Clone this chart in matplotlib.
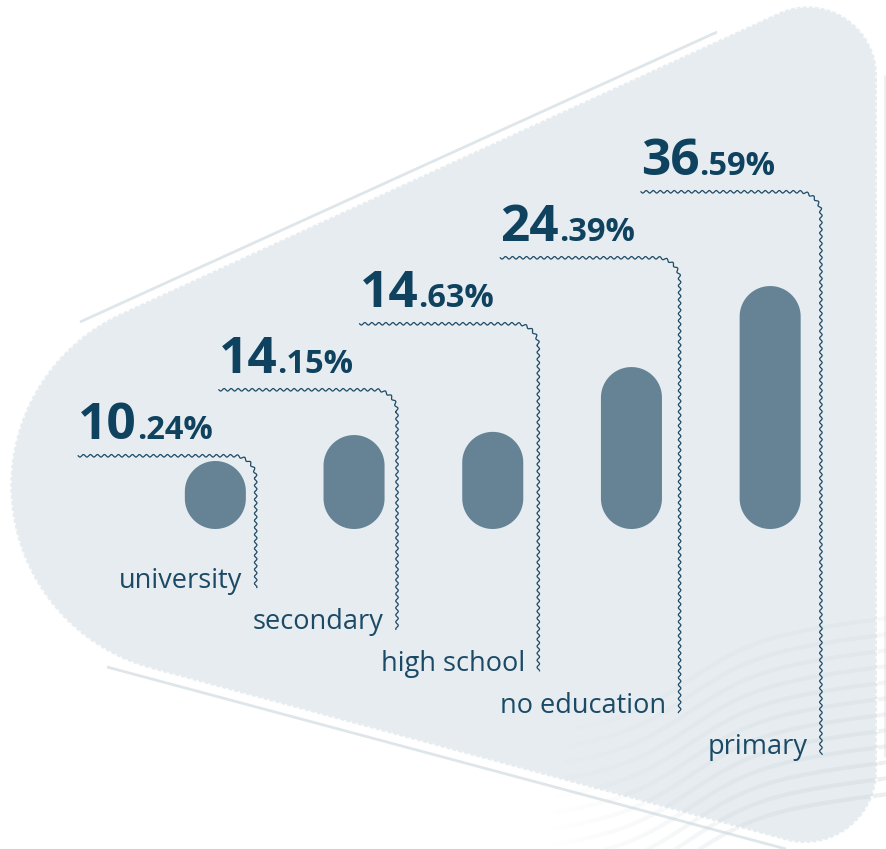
import numpy as np
import matplotlib
matplotlib.use("Agg")
import matplotlib.pyplot as plt
from matplotlib.patches import Polygon
from matplotlib.collections import LineCollection

# ---- data -------------------------------------------------------------
categories = ["university", "secondary", "high school", "no education", "primary"]
shares = [10.24, 14.15, 14.63, 24.39, 36.59]

# ---- style ------------------------------------------------------------
W, H = 887, 849
BG_FILL = "#e6ecef"
BAR_COLOR = "#668396"
DARK = "#0f425f"
LABEL_COLOR = "#1b4a66"
LINE_COLOR = "#1d4a66"
FAINT = "#dfe6ea"
FONT = ["Open Sans", "DejaVu Sans"]

# staircase layout of the annotation brackets (pixel units)
LABEL_X0, LABEL_DX = 78.2, 140.7
RULE_Y0, RULE_DY = 455.8, -66.0
DROP_X0, DROP_DX = 255.7, 141.3
END_Y0, END_DY = 587.6, 41.7
CORNER_R = 22
WAVE_AMP, WAVE_LEN = 1.25, 7.0


def rounded_polygon(verts, radii, n=80):
    """Polygon whose corners are replaced by circular fillets."""
    verts = [np.asarray(v, float) for v in verts]
    out = []
    k = len(verts)
    for i in range(k):
        p, a, b = verts[i], verts[i - 1], verts[(i + 1) % k]
        r = radii[i]
        u = (a - p) / np.linalg.norm(a - p)
        v = (b - p) / np.linalg.norm(b - p)
        ang = np.arccos(np.clip(np.dot(u, v), -1, 1))
        t = r / np.tan(ang / 2)
        p1, p2 = p + u * t, p + v * t
        bis = (u + v) / np.linalg.norm(u + v)
        c = p + bis * (r / np.sin(ang / 2))
        a1 = np.arctan2(*(p1 - c)[::-1])
        a2 = np.arctan2(*(p2 - c)[::-1])
        d = (a2 - a1 + np.pi) % (2 * np.pi) - np.pi
        th = a1 + np.linspace(0, d, n)
        out.append(np.column_stack([c[0] + r * np.cos(th), c[1] + r * np.sin(th)]))
    return np.vstack(out)


def wavy_bracket(x0, y0, xv, y1, r, amp, wl):
    """Horizontal rule, rounded corner, vertical drop - drawn as a fine wave."""
    step = 0.25
    hx = np.arange(x0, xv - r, step)
    seg1 = np.column_stack([hx, np.full_like(hx, y0)])
    th = np.linspace(0, np.pi / 2, int(np.pi / 2 * r / step))
    cx, cy = xv - r, y0 + r
    seg2 = np.column_stack([cx + r * np.sin(th), cy - r * np.cos(th)])
    vy = np.arange(y0 + r, y1, step)
    seg3 = np.column_stack([np.full_like(vy, xv), vy])
    pts = np.vstack([seg1, seg2, seg3])
    d = np.gradient(pts, axis=0)
    d /= np.linalg.norm(d, axis=1)[:, None]
    normal = np.column_stack([-d[:, 1], d[:, 0]])
    s = np.concatenate([[0], np.cumsum(np.linalg.norm(np.diff(pts, axis=0), axis=1))])
    return pts + normal * (amp * np.sin(2 * np.pi * s / wl))[:, None]


fig = plt.figure(figsize=(W / 100, H / 100), dpi=100)
fig.patch.set_facecolor("white")

# full-canvas axes for the backdrop and annotations (pixel coordinates)
ax = fig.add_axes([0, 0, 1, 1])
ax.set_xlim(0, W)
ax.set_ylim(H, 0)
ax.axis("off")

shape = rounded_polygon([(-357, 531.7), (877, -32.2), (877, 865)], [189.7, 69.4, 72])
ax.add_patch(Polygon(shape, closed=True, facecolor=BG_FILL, edgecolor="none", zorder=1))

# soft flowing stripes in the lower-right corner, fading out towards the centre
xs = np.linspace(520, 887, 300)
for j in range(12):
    base = 700 + j * 16
    ys = base - 38 * np.tanh((xs - 690) / 70) - 0.12 * (xs - 520)
    seg = np.stack([np.column_stack([xs[:-1], ys[:-1]]),
                    np.column_stack([xs[1:], ys[1:]])], axis=1)
    dist = np.hypot(xs[:-1] - 880, ys[:-1] - 849)
    alpha = np.clip(1 - dist / 330, 0, 1) * 0.55
    cols = np.zeros((len(alpha), 4))
    cols[:, :3] = matplotlib.colors.to_rgb("#d3dce2")
    cols[:, 3] = alpha
    ax.add_collection(LineCollection(seg, colors=cols, linewidths=3.0, zorder=1.5))

ax.add_patch(Polygon(shape, closed=True, facecolor="none", edgecolor="white",
                     lw=2.2, ls=(0, (0.8, 1.2)), alpha=0.85, zorder=2))

# thin accent strokes along the edges
ax.plot([80, 717], [322, 32], color=FAINT, lw=2, solid_capstyle="butt", zorder=1)
ax.plot([107, 786], [667, 849], color=FAINT, lw=2, solid_capstyle="butt", zorder=1)
ax.plot([885, 885], [75, 757], color="#eceff1", lw=2, solid_capstyle="butt", zorder=1)

# ---- bars: pill-shaped columns on their own value axes -----------------
bar_left_px, bar_dx_px = 146.0, 138.7
bar_base_px, px_per_unit, y_max = 529.0, 6.64, 40.0
n = len(shares)
ax_b = fig.add_axes([bar_left_px / W, (H - bar_base_px) / H,
                     n * bar_dx_px / W, y_max * px_per_unit / H])
ax_b.set_xlim(-0.5, n - 0.5)
ax_b.set_ylim(0, y_max)
ax_b.axis("off")
ax_b.patch.set_alpha(0)

bar_w = 0.44                         # in category units
x_per_px = n / (n * bar_dx_px)
y_per_px = y_max / (y_max * px_per_unit)
ry = (bar_w / 2) / x_per_px * y_per_px   # cap radius expressed in value units
th = np.linspace(0, np.pi, 60)
for i, v in enumerate(shares):
    top = np.column_stack([i + (bar_w / 2) * np.cos(th), (v - ry) + ry * np.sin(th)])
    bot = np.column_stack([i - (bar_w / 2) * np.cos(th), ry - ry * np.sin(th)])
    ax_b.add_patch(Polygon(np.vstack([top, bot]), closed=True,
                           facecolor=BAR_COLOR, edgecolor="none"))

# ---- value labels, wavy brackets and category names ---------------------
fig.canvas.draw()
renderer = fig.canvas.get_renderer()
for i, (cat, v) in enumerate(zip(categories, shares)):
    x0 = LABEL_X0 + i * LABEL_DX
    yh = RULE_Y0 + i * RULE_DY
    xv = DROP_X0 + i * DROP_DX
    ye = END_Y0 + i * END_DY

    pts = wavy_bracket(x0, yh, xv, ye, CORNER_R, WAVE_AMP, WAVE_LEN)
    ax.plot(pts[:, 0], pts[:, 1], color=LINE_COLOR, lw=0.9, zorder=4)

    whole, frac = f"{v:.2f}".split(".")
    t_big = ax.text(x0, yh - 17, whole, family=FONT, fontsize=37, fontweight="bold",
                    color=DARK, ha="left", va="baseline", zorder=5)
    bb = t_big.get_window_extent(renderer)
    xr = ax.transData.inverted().transform((bb.x1, 0))[0]
    ax.text(xr, yh - 17, f".{frac}%", family=FONT, fontsize=23.5, fontweight="bold",
            color=DARK, ha="left", va="baseline", zorder=5)

    ax.text(xv - 13, ye, cat, family=FONT, fontsize=19.5, color=LABEL_COLOR,
            ha="right", va="baseline", zorder=5)

fig.savefig("out.png", dpi=100, facecolor="white")
